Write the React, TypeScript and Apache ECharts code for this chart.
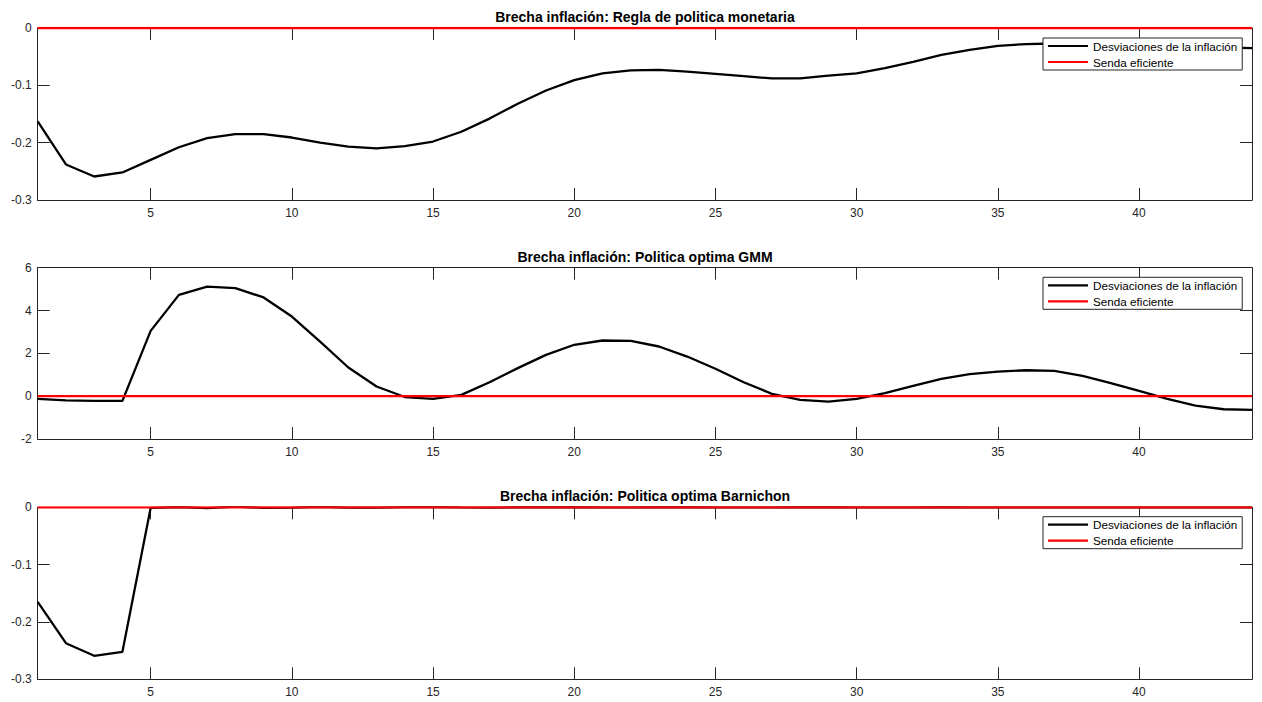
import React, { useEffect, useRef } from "react";
import * as echarts from "echarts";

const periods = [1,2,3,4,5,6,7,8,9,10,11,12,13,14,15,16,17,18,19,20,21,22,23,24,25,26,27,28,29,30,31,32,33,34,35,36,37,38,39,40,41,42,43,44];

const reglaValues = [-0.163,-0.238,-0.259,-0.252,-0.230,-0.208,-0.192,-0.185,-0.185,-0.191,-0.200,-0.207,-0.210,-0.206,-0.198,-0.181,-0.158,-0.132,-0.109,-0.091,-0.079,-0.074,-0.073,-0.076,-0.080,-0.084,-0.088,-0.088,-0.083,-0.079,-0.070,-0.059,-0.047,-0.038,-0.031,-0.028,-0.027,-0.027,-0.028,-0.030,-0.031,-0.033,-0.034,-0.035];

const gmmValues = [-0.13,-0.2,-0.22,-0.22,3.05,4.73,5.12,5.05,4.61,3.72,2.55,1.34,0.45,-0.04,-0.13,0.06,0.65,1.31,1.93,2.4,2.6,2.58,2.32,1.85,1.28,0.65,0.11,-0.17,-0.25,-0.13,0.14,0.48,0.81,1.03,1.15,1.21,1.18,0.95,0.61,0.25,-0.13,-0.44,-0.61,-0.64];

const barnichonValues = [-0.165,-0.237,-0.259,-0.252,-0.001,0.0005,-0.0015,0.0012,-0.001,-0.0005,0.0008,-0.0004,-0.0006,0.0003,0.0004,-0.0003,-0.0004,0.0001,0.0003,0.0001,-0.0002,-0.0002,0.0001,0.0002,0,-0.0001,-0.0001,0.0001,0.0001,0,-0.0001,0,0.0001,0,0,0,0,0,0,0,0,0,0,0];

const efficientValues = [0,0,0,0,0,0,0,0,0,0,0,0,0,0,0,0,0,0,0,0,0,0,0,0,0,0,0,0,0,0,0,0,0,0,0,0,0,0,0,0,0,0,0,0];

const xTicks = [5, 10, 15, 20, 25, 30, 35, 40];
const yTicksSmall = [-0.3, -0.2, -0.1, 0];
const yTicksGmm = [-2, 0, 2, 4, 6];

const titles = [
  "Brecha inflación: Regla de politica monetaria",
  "Brecha inflación: Politica optima GMM",
  "Brecha inflación: Politica optima Barnichon",
];
const seriesNames = ["Desviaciones de la inflación", "Senda eficiente"];

const FONT = "'Liberation Sans', Arial, Helvetica, sans-serif";
const AXIS_COLOR = "#262626";
const LEGEND_LINE_ICON = "path://M0,0H40V2.2H0Z";

export default function App() {
  const ref = useRef<HTMLDivElement>(null);

  useEffect(() => {
    document.body.style.margin = "0";
    if (!ref.current) return;
    const chart = echarts.init(ref.current, undefined, { renderer: "svg" });

    const plotLeft = 37.7;
    const plotRight = 10;
    const grids = [
      { top: 28, height: 172 },
      { top: 267.7, height: 171.3 },
      { top: 507.3, height: 172 },
    ];
    const yRanges = [
      { min: -0.3, max: 0, ticks: yTicksSmall },
      { min: -2, max: 6, ticks: yTicksGmm },
      { min: -0.3, max: 0, ticks: yTicksSmall },
    ];
    const dataSets = [reglaValues, gmmValues, barnichonValues];
    const legendTops = [38, 277.3, 516.7];
    const titleTops = [9.5, 249.5, 488.5];
    const colors = ["#000000", "#ff0000"];

    const xAxis: any[] = [];
    const yAxis: any[] = [];
    const series: any[] = [];

    grids.forEach((g, i) => {
      const common = {
        type: "value",
        gridIndex: i,
        min: 1,
        max: 44,
        splitLine: { show: false },
        axisLine: { show: true, onZero: false, lineStyle: { color: AXIS_COLOR, width: 1 } },
        axisTick: { show: true, inside: true, length: 12, customValues: xTicks, lineStyle: { color: AXIS_COLOR, width: 1 } },
      };
      xAxis.push({
        ...common,
        position: "bottom",
        axisLabel: { show: true, customValues: xTicks, margin: 7, fontSize: 12, color: AXIS_COLOR, fontFamily: FONT },
      });
      xAxis.push({
        ...common,
        position: "top",
        axisLabel: { show: false },
      });
      const yr = yRanges[i];
      const ycommon = {
        type: "value",
        gridIndex: i,
        min: yr.min,
        max: yr.max,
        splitLine: { show: false },
        axisLine: { show: true, onZero: false, lineStyle: { color: AXIS_COLOR, width: 1 } },
        axisTick: { show: true, inside: true, length: 12, customValues: yr.ticks, lineStyle: { color: AXIS_COLOR, width: 1 } },
      };
      yAxis.push({
        ...ycommon,
        position: "left",
        axisLabel: { show: true, customValues: yr.ticks, margin: 6, fontSize: 12, color: AXIS_COLOR, fontFamily: FONT },
      });
      yAxis.push({
        ...ycommon,
        position: "right",
        axisLabel: { show: false },
      });

      const vals = dataSets[i];
      series.push({
        name: seriesNames[0],
        type: "line",
        xAxisIndex: i * 2,
        yAxisIndex: i * 2,
        data: periods.map((p, k) => [p, vals[k]]),
        symbol: "none",
        lineStyle: { color: colors[0], width: 2.3 },
        itemStyle: { color: colors[0] },
        z: 2,
      });
      series.push({
        name: seriesNames[1],
        type: "line",
        xAxisIndex: i * 2,
        yAxisIndex: i * 2,
        data: periods.map((p, k) => [p, efficientValues[k]]),
        symbol: "none",
        lineStyle: { color: colors[1], width: 2.3 },
        itemStyle: { color: colors[1] },
        z: 3,
      });
    });

    chart.setOption({
      animation: false,
      backgroundColor: "#ffffff",
      textStyle: { fontFamily: FONT },
      title: titles.map((t, i) => ({
        text: t,
        left: 645,
        top: titleTops[i],
        textAlign: "center",
        padding: 0,
        textStyle: { fontSize: 14, fontWeight: "bold", color: "#000", fontFamily: FONT },
      })),
      grid: grids.map((g) => ({
        left: plotLeft,
        right: plotRight,
        top: g.top,
        height: g.height,
        containLabel: false,
      })),
      legend: legendTops.map((t) => ({
        data: seriesNames.map((n, k) => ({ name: n, icon: LEGEND_LINE_ICON, itemStyle: { color: colors[k] } })),
        orient: "vertical",
        left: 1043,
        top: t,
        itemWidth: 40,
        itemHeight: 14,
        itemGap: 4,
        padding: [2, 5, 2, 5],
        borderColor: AXIS_COLOR,
        borderWidth: 1,
        backgroundColor: "#ffffff",
        selectedMode: false,
        textStyle: { fontSize: 11.7, color: "#000", fontFamily: FONT },
      })),
      xAxis,
      yAxis,
      series,
    });

    return () => chart.dispose();
  }, []);

  return <div ref={ref} style={{ width: 1262, height: 702 }} />;
}
